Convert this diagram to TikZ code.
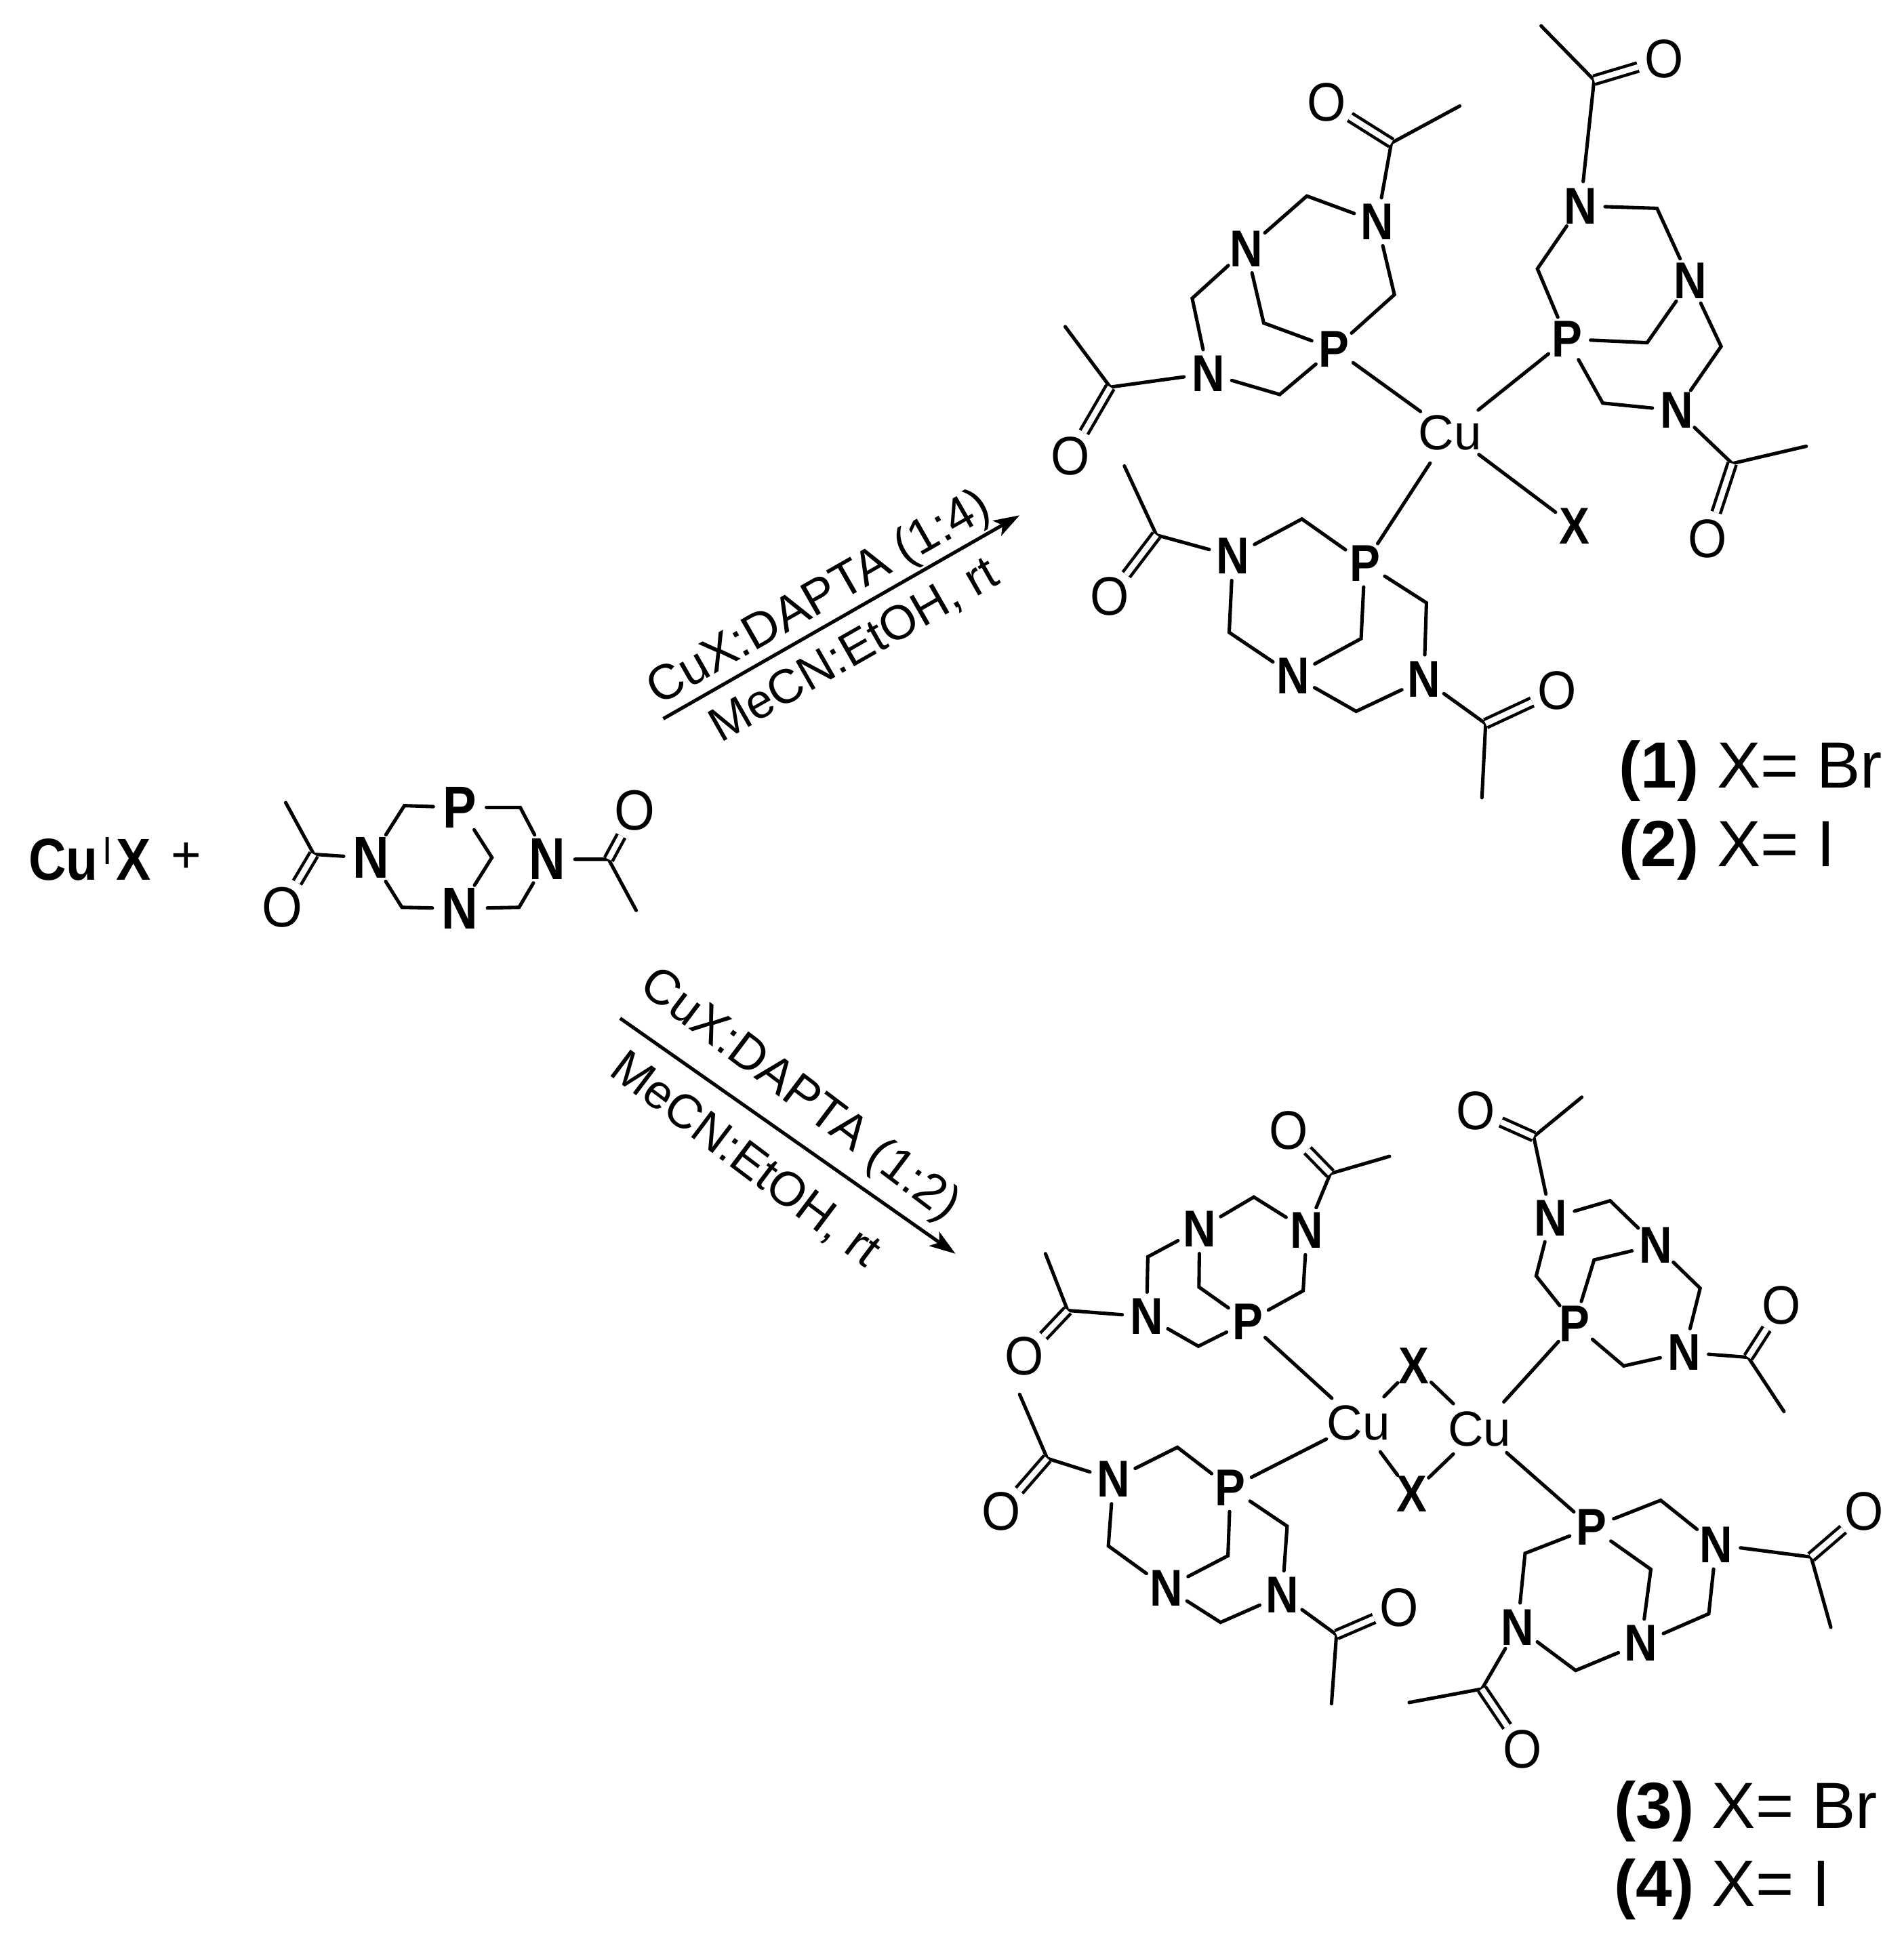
\documentclass[tikz,border=0pt]{standalone}
\usepackage{fontspec}
\usepackage{graphicx}
\setmainfont{Liberation Sans}
\newfontfamily\atomf[FakeStretch=.88]{Liberation Sans}
\newfontfamily\reactf[FakeStretch=.85]{Liberation Sans}
\newfontfamily\oxyf[FakeStretch=.92]{Liberation Sans}
\usetikzlibrary{arrows.meta}
\tikzset{
  x=1pt,y=-1pt,
  bond/.style={line width=2.8pt,line join=miter,line cap=round},
  dbond/.style={line width=2.5pt,double,double distance=4.5pt,line cap=butt},
  arrowline/.style={line width=2.8pt,-{Stealth[length=21pt,width=14pt,inset=5pt]}},
  natom/.style={circle,inner sep=0pt,minimum size=35pt,font=\atomf\bfseries\fontsize{42}{42}\selectfont},
  oatom/.style={circle,inner sep=0pt,minimum size=40pt,font=\oxyf\fontsize{44}{44}\selectfont},
  cuatom/.style={circle,inner sep=0pt,minimum size=52pt,font=\fontsize{40}{40}\selectfont},
  rnatom/.style={circle,inner sep=0pt,minimum size=38pt,font=\reactf\bfseries\fontsize{48}{48}\selectfont},
  roatom/.style={circle,inner sep=0pt,minimum size=42pt,font=\oxyf\fontsize{46}{46}\selectfont},
  cond/.style={font=\fontsize{40}{40}\selectfont,inner sep=0pt},
  condb/.style={font=\fontsize{39}{39}\selectfont,inner sep=0pt},
  lab/.style={anchor=base west,inner sep=0pt,font=\fontsize{53}{53}\selectfont},
}
\newcommand{\cc}[2]{\coordinate (#1) at (#2);}
\newcommand{\NN}[2]{\node[natom] (#1) at (#2) {N};}
\newcommand{\PP}[2]{\node[natom] (#1) at (#2) {P};}
\newcommand{\XX}[2]{\node[natom] (#1) at (#2) {X};}
\newcommand{\OO}[2]{\node[oatom] (#1) at (#2) {O};}
\begin{document}
\begin{tikzpicture}
\fill[white] (0,0) rectangle (1544,1568);
\useasboundingbox (0,0) rectangle (1544,1568);

% reactant
\node[anchor=base west,inner sep=0pt] (cux) at (23,714) {\atomf\fontsize{48}{48}\selectfont\bfseries Cu\kern4pt\raisebox{13pt}{\mdseries\fontsize{32}{32}\selectfont I}\kern3pt X};
\node[inner sep=0pt,font=\fontsize{42}{42}\selectfont] (plus) at (151,696) {+};
\node[rnatom] (rP) at (373,655) {P};
\node[rnatom] (rN1) at (301,696) {N};
\node[rnatom] (rN2) at (444,697) {N};
\node[rnatom] (rN3) at (373,737) {N};
\cc{r1}{328,653.5}\cc{r2}{422,655}\cc{r3}{399,695.6}\cc{r4}{326,736}\cc{r5}{421,736}
\cc{r6}{254.6,693}\cc{rm1}{231.7,651}\cc{r7}{493.6,697}\cc{rm2}{516,738.5}
\node[roatom] (rO1) at (229,736) {O};
\node[roatom] (rO2) at (515,657.5) {O};
\draw[bond] (rN1)--(r1)--(rP)--(r2)--(rN2)--(r5)--(rN3)--(r4)--(rN1);
\draw[bond] (rP)--(r3)--(rN3);
\draw[bond] (rm1)--(r6)--(rN1);
\draw[bond] (rN2)--(r7)--(rm2);
\draw[dbond] (r6)--(rO1);
\draw[dbond] (r7)--(rO2);

% arrows
\cc{a1s}{538,583}\cc{a1e}{827,418}
\cc{a2s}{503,826}\cc{a2e}{775,1017}
\draw[arrowline] (a1s)--(a1e);
\draw[arrowline] (a2s)--(a2e);
\node[cond,rotate=29.7] (t1) at (665,486) {CuX:DAPTA (1:4)};
\node[condb,rotate=29.7] (t2) at (693,528) {MeCN:EtOH, rt};
\node[cond,rotate=-37] (t3) at (648,889) {CuX:DAPTA (1:2)};
\node[condb,rotate=-37] (t4) at (604,941) {MeCN:EtOH, rt};

% complex 1
\node[cuatom] (cu) at (1176,351) {Cu};
\XX{xa}{1277,427}
% ligand A
\PP{aP}{1082,283}\NN{aN1}{1117,180}\NN{aN2}{1011,202}\NN{aN3}{980,303}
\OO{aO1}{1076,83}\OO{aO2}{868,370}
\cc{ac1}{1128.5,116}\cc{am1}{1184,86}\cc{ac2}{1060,159}\cc{ac3}{967,242}\cc{ac4}{1131,239}\cc{ac5}{1025,262}\cc{ac6}{1038,320}\cc{ac7}{900.5,314}\cc{am2}{864,265}
\draw[bond] (aP)--(ac4)--(aN1)--(ac2)--(aN2)--(ac3)--(aN3)--(ac6)--(aP)--(ac5)--(aN2);
\draw[bond] (aN1)--(ac1)--(am1);
\draw[bond] (aN3)--(ac7)--(am2);
\draw[dbond] (ac1)--(aO1);
\draw[dbond] (ac7)--(aO2);
\draw[bond] (aP)--(cu);
% ligand B
\PP{bP}{1271,275}\NN{bN1}{1282,167}\NN{bN2}{1371,228}\NN{bN3}{1360,333}
\OO{bO1}{1350,48}\OO{bO2}{1385,437}
\cc{bc1}{1293,65}\cc{bm1}{1250,21}\cc{bc2}{1344,169}\cc{bc3}{1247,218}\cc{bc4}{1336,278}\cc{bc5}{1396,281}\cc{bc6}{1300,327}\cc{bc7}{1405,376}\cc{bm2}{1465,362}
\draw[bond] (bP)--(bc3)--(bN1)--(bc2)--(bN2)--(bc5)--(bN3)--(bc6)--(bP)--(bc4)--(bN2);
\draw[bond] (bN1)--(bc1)--(bm1);
\draw[bond] (bN3)--(bc7)--(bm2);
\draw[dbond] (bc1)--(bO1);
\draw[dbond] (bc7)--(bO2);
\draw[bond] (bP)--(cu);
% ligand C
\PP{cP}{1107,457}\NN{cN1}{1000,451}\NN{cN2}{1049,548}\NN{cN3}{1155,551}
\OO{cO1}{900,484}\OO{cO2}{1263,560}
\cc{cc1}{1056,421}\cc{cc2}{938,434}\cc{cm1}{912,378}\cc{cc3}{997,513}\cc{cc4}{1104,518}\cc{cc5}{1100,577}\cc{cc6}{1157,489}\cc{cc7}{1205,587}\cc{cm2}{1202,647}
\draw[bond] (cP)--(cc1)--(cN1)--(cc3)--(cN2)--(cc5)--(cN3)--(cc6)--(cP)--(cc4)--(cN2);
\draw[bond] (cN1)--(cc2)--(cm1);
\draw[bond] (cN3)--(cc7)--(cm2);
\draw[dbond] (cc2)--(cO1);
\draw[dbond] (cc7)--(cO2);
\draw[bond] (cP)--(cu);
\draw[bond] (cu)--(xa);

% complex 3
\node[cuatom,minimum size=46pt] (cuA) at (1102,1154) {Cu};
\node[cuatom,minimum size=46pt] (cuB) at (1200,1159) {Cu};
\XX{xb}{1147,1108}\XX{xc}{1145,1212}
\draw[bond] (cuA)--(xb)--(cuB)--(xc)--(cuA);
% ligand D
\PP{dP}{1012,1072}\NN{dN1}{1060,998}\NN{dN2}{973,997}\NN{dN3}{930,1068}
\OO{dO1}{1045,917}\OO{dO2}{831,1100}
\cc{dc1}{1079,952}\cc{dm1}{1127,938}\cc{dc2}{1017,971}\cc{dc3}{931,1019.5}\cc{dc4}{1057,1047}\cc{dc5}{972.5,1044}\cc{dc6}{972,1092}\cc{dc7}{866,1063}\cc{dm2}{848,1017}
\draw[bond] (dP)--(dc4)--(dN1)--(dc2)--(dN2)--(dc3)--(dN3)--(dc6)--(dP)--(dc5)--(dN2);
\draw[bond] (dN1)--(dc1)--(dm1);
\draw[bond] (dN3)--(dc7)--(dm2);
\draw[dbond] (dc1)--(dO1);
\draw[dbond] (dc7)--(dO2);
\draw[bond] (dP)--(cuA);
% ligand E
\PP{eP}{1277,1074}\NN{eN1}{1258,988}\NN{eN2}{1343,1010}\NN{eN3}{1366,1097}
\OO{eO1}{1197,901}\OO{eO2}{1445,1059}
\cc{ec1}{1244,922}\cc{em1}{1283,890}\cc{ec2}{1306,974}\cc{ec3}{1246,1035}\cc{ec4}{1293,1022}\cc{ec5}{1379,1045}\cc{ec6}{1317,1108}\cc{ec7}{1418,1101}\cc{em2}{1447,1145}
\draw[bond] (eP)--(ec3)--(eN1)--(ec2)--(eN2)--(ec5)--(eN3)--(ec6)--(eP)--(ec4)--(eN2);
\draw[bond] (eN1)--(ec1)--(em1);
\draw[bond] (eN3)--(ec7)--(em2);
\draw[dbond] (ec1)--(eO1);
\draw[dbond] (ec7)--(eO2);
\draw[bond] (eP)--(cuB);
% ligand F
\PP{fP}{998,1207}\NN{fN1}{903,1200}\NN{fN2}{946,1288}\NN{fN3}{1040,1294}
\OO{fO1}{812,1226}\OO{fO2}{1135,1304}
\cc{fc1}{955,1174}\cc{fc2}{849.4,1183}\cc{fm1}{827,1131}\cc{fc3}{899,1254}\cc{fc4}{996,1262}\cc{fc5}{990,1316}\cc{fc6}{1044,1238}\cc{fc7}{1084,1326}\cc{fm2}{1080,1382}
\draw[bond] (fP)--(fc1)--(fN1)--(fc3)--(fN2)--(fc5)--(fN3)--(fc6)--(fP)--(fc4)--(fN2);
\draw[bond] (fN1)--(fc2)--(fm1);
\draw[bond] (fN3)--(fc7)--(fm2);
\draw[dbond] (fc2)--(fO1);
\draw[dbond] (fc7)--(fO2);
\draw[bond] (fP)--(cuA);
% ligand G
\PP{gP}{1291,1239}\NN{gN1}{1392,1253}\NN{gN2}{1331,1333}\NN{gN3}{1231,1320}
\OO{gO1}{1512,1226}\OO{gO2}{1235,1419}
\cc{gc1}{1347,1217}\cc{gc2}{1469,1263}\cc{gm1}{1485,1320}\cc{gc3}{1386,1309}\cc{gc4}{1339,1273}\cc{gc5}{1278,1355}\cc{gc6}{1237,1260}\cc{gc7}{1202,1370}\cc{gm2}{1143,1381}
\draw[bond] (gP)--(gc1)--(gN1)--(gc3)--(gN2)--(gc5)--(gN3)--(gc6)--(gP)--(gc4)--(gN2);
\draw[bond] (gN1)--(gc2)--(gm1);
\draw[bond] (gN3)--(gc7)--(gm2);
\draw[dbond] (gc2)--(gO1);
\draw[dbond] (gc7)--(gO2);
\draw[bond] (gP)--(cuB);

% labels
\node[lab] (l1) at (1313,639) {\textbf{(1)} X= Br};
\node[lab] (l2) at (1313,703) {\textbf{(2)} X= I};
\node[lab] (l3) at (1309,1483) {\textbf{(3)} X= Br};
\node[lab] (l4) at (1309,1546) {\textbf{(4)} X= I};
\end{tikzpicture}
\end{document}
